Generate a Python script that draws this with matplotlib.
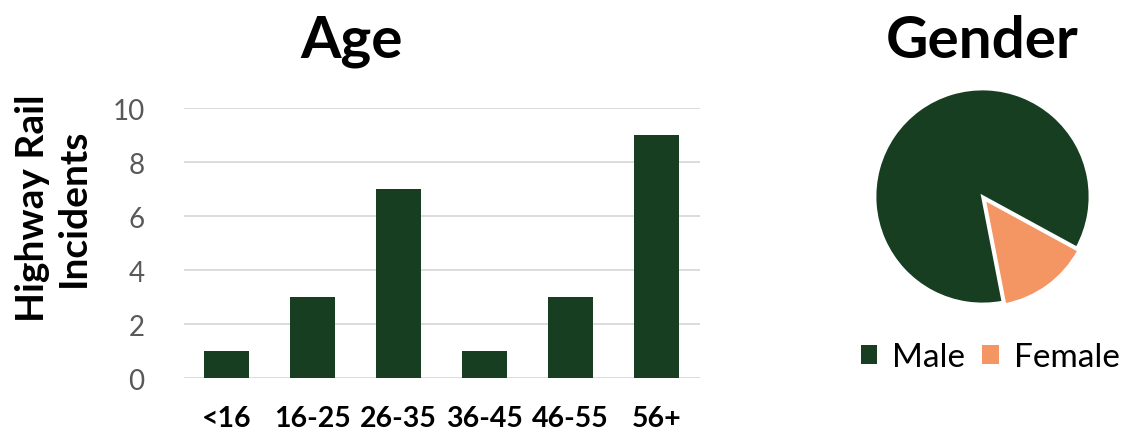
import matplotlib
matplotlib.use('Agg')
import matplotlib.pyplot as plt
from matplotlib.patches import Patch

# ---------------------
# Data
# ---------------------
age_groups = ['<16', '16-25', '26-35', '36-45', '46-55', '56+']
age_counts = [1, 3, 7, 1, 3, 9]
y_ticks = [0, 2, 4, 6, 8, 10]

gender_labels = ['Male', 'Female']
gender_share = [86, 14]

GREEN = '#183e22'
ORANGE = '#f49564'
GRID = '#d9d9d9'
TICK_GRAY = '#595959'

plt.rcParams['font.family'] = ['Lato', 'DejaVu Sans']

W, H = 1123, 435
fig = plt.figure(figsize=(W / 100, H / 100), dpi=100)


def px_axes(x0, y0, x1, y1):
    # axes rectangle given in pixel coords (top-left origin)
    return fig.add_axes([x0 / W, 1 - y1 / H, (x1 - x0) / W, (y1 - y0) / H])


# ---------------------
# Age bar chart
# ---------------------
ax = px_axes(183.5, 109.3, 699.5, 379.3)
x = range(len(age_groups))
ax.bar(x, age_counts, width=0.52, color=GREEN, zorder=3)
ax.set_xlim(-0.5, len(age_groups) - 0.5)
ax.set_ylim(0, 10)
ax.set_yticks(y_ticks)
ax.set_xticks(list(x))
ax.set_xticklabels(age_groups, fontsize=20.5, fontweight='bold', color='black')
ax.tick_params(axis='y', length=0, pad=28, labelsize=20, labelcolor=TICK_GRAY)
ax.tick_params(axis='x', length=0, pad=19)
ax.grid(axis='y', color=GRID, linewidth=1.3, zorder=0)
for s in ax.spines.values():
    s.set_visible(False)

fig.text(53 / W, 1 - 208 / H, 'Highway Rail\nIncidents', fontsize=28,
         fontweight='bold', rotation=90, ha='center', va='center',
         linespacing=1.2, multialignment='center')

fig.text(352 / W, 1 - 42 / H, 'Age', fontsize=42, fontweight='bold',
         ha='center', va='center')

# ---------------------
# Gender pie chart
# ---------------------
r_px = 107.5
cx, cy = 982.5, 197.5
pad = 1.06
axp = px_axes(cx - r_px * pad, cy - r_px * pad, cx + r_px * pad, cy + r_px * pad)
axp.pie(gender_share, colors=[GREEN, ORANGE], startangle=-79, counterclock=False,
        explode=[0, 0.03], radius=1,
        wedgeprops=dict(edgecolor='white', linewidth=2))
axp.set_xlim(-pad, pad)
axp.set_ylim(-pad, pad)
axp.set_aspect('equal')
axp.axis('off')

fig.text(cx / W, 1 - 42 / H, 'Gender', fontsize=42, fontweight='bold',
         ha='center', va='center')

handles = [Patch(facecolor=c, edgecolor='none') for c in (GREEN, ORANGE)]
fig.legend(handles, gender_labels, loc='center', bbox_to_anchor=(990 / W, 1 - 358 / H),
           ncol=2, frameon=False, fontsize=24, handlelength=0.5, handleheight=0.5,
           handletextpad=0.45, columnspacing=0.5, borderpad=0, borderaxespad=0)

fig.savefig('out.png', dpi=100)
